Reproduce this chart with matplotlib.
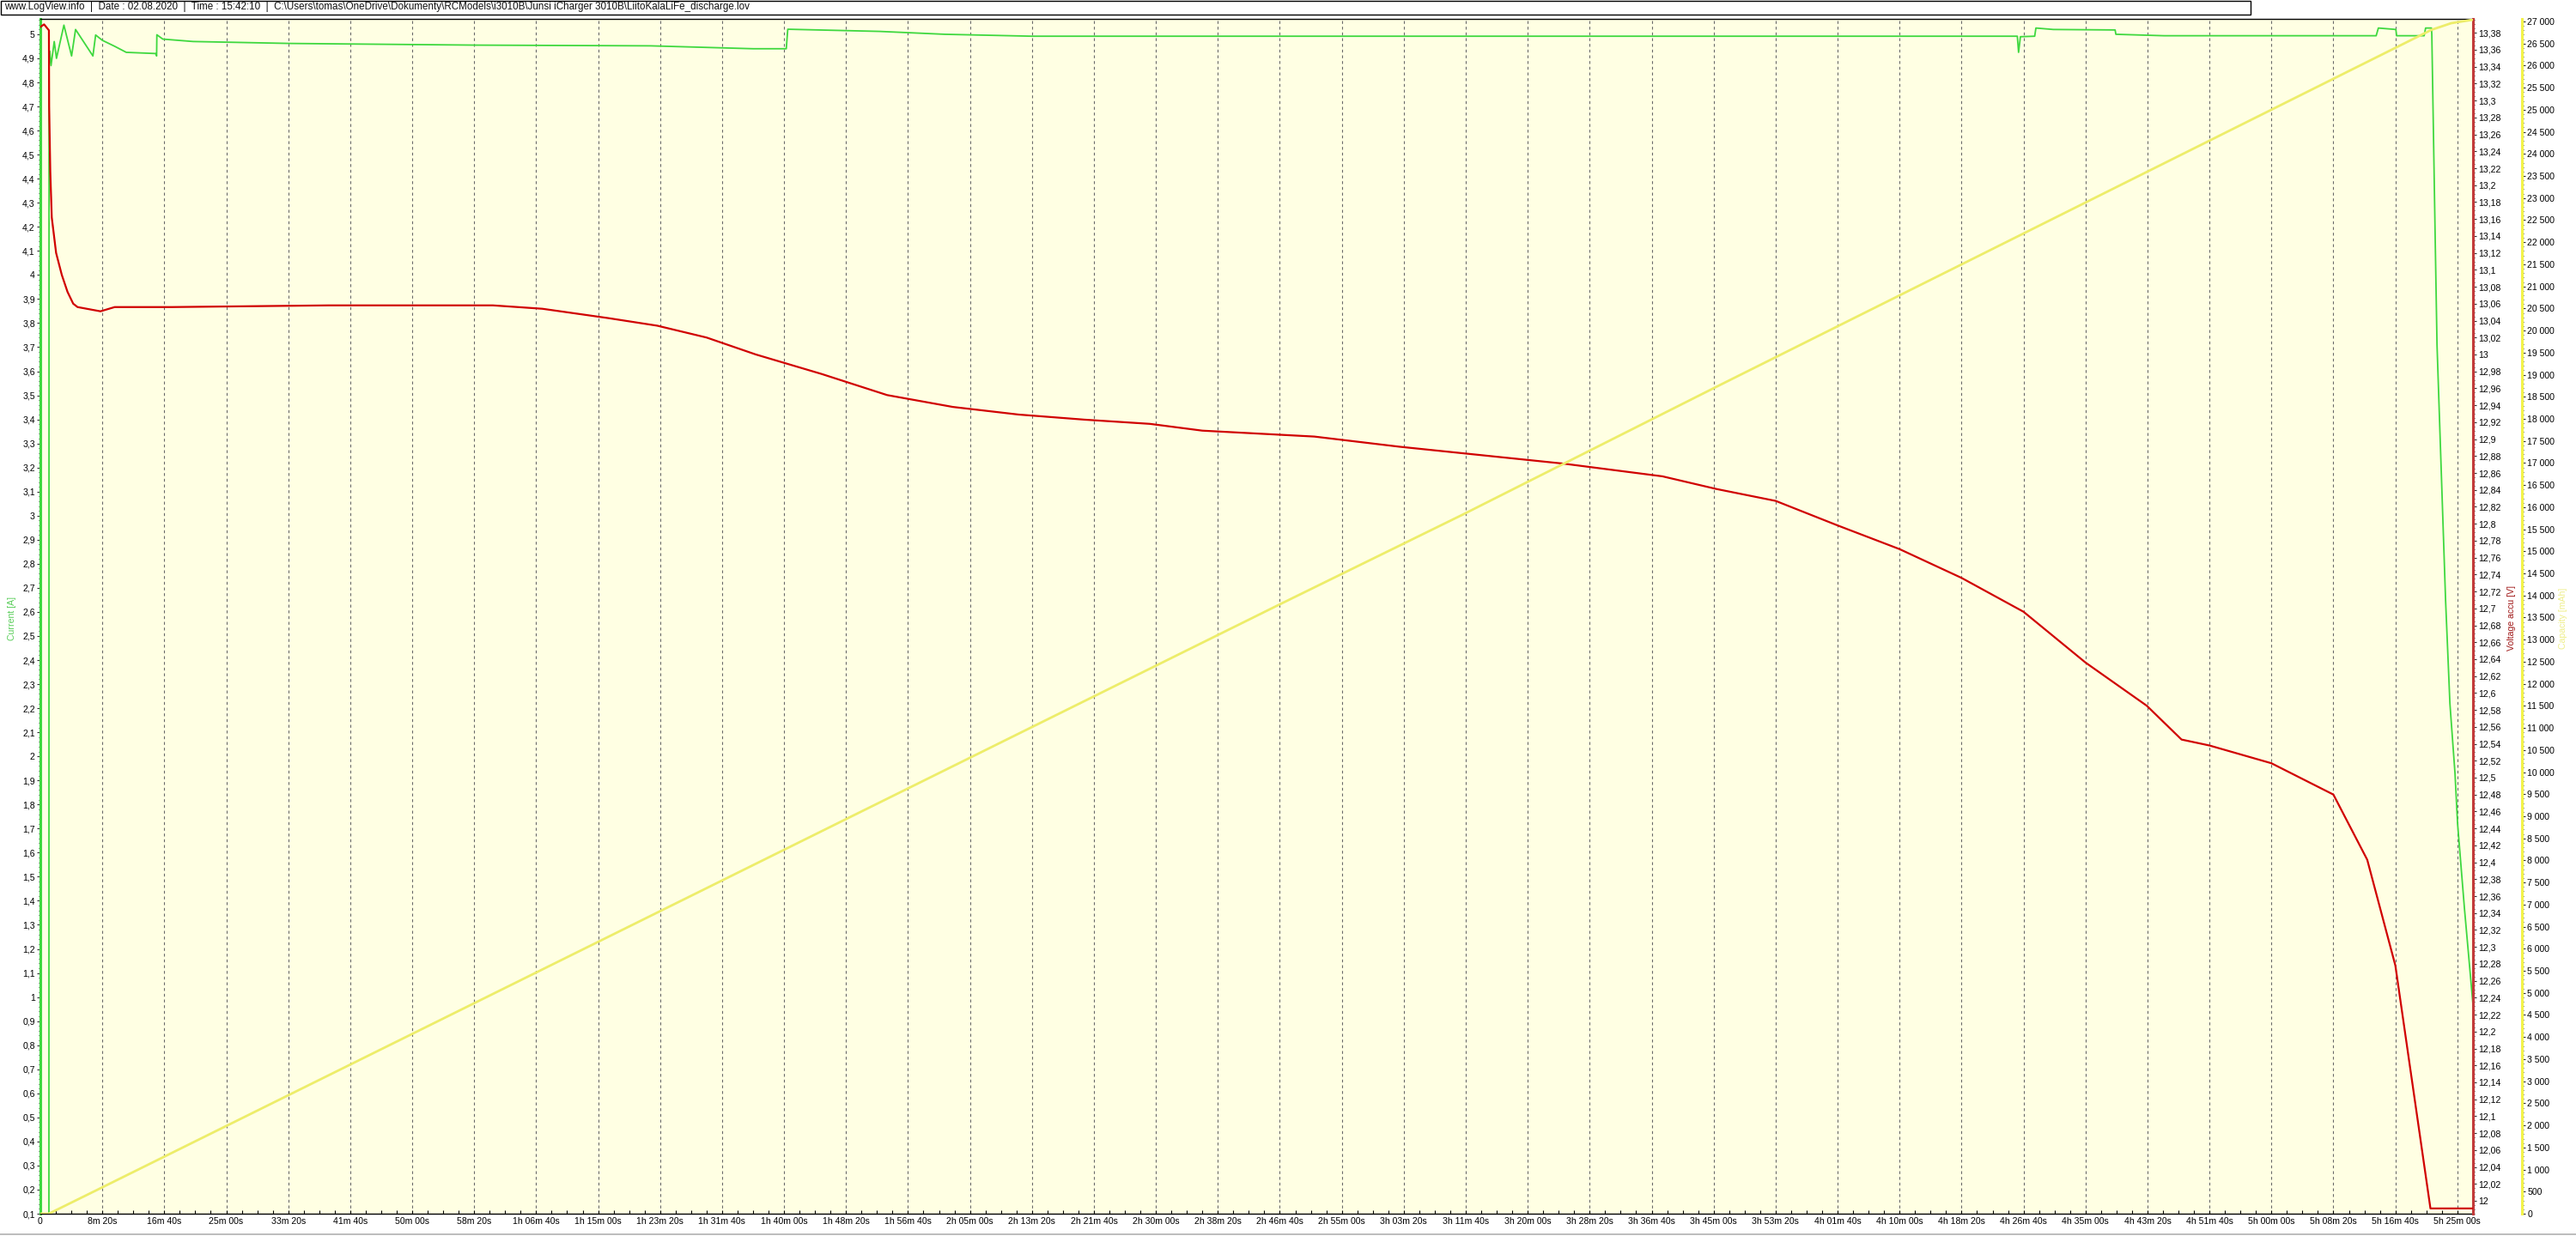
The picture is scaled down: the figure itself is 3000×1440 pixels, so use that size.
import matplotlib
matplotlib.use("Agg")
import matplotlib.pyplot as plt
from matplotlib.ticker import MultipleLocator, FuncFormatter
from matplotlib.patches import Rectangle
from matplotlib.lines import Line2D

# ---------------- data ----------------
# time in seconds
current_t = [0, 69, 70, 76, 86, 112, 130, 190, 252, 284, 424, 446, 500, 600, 693,
             930, 938, 940, 988, 1232, 2009, 3515, 4924, 5751, 6018, 6030, 6771,
             7296, 8000, 15950, 15960, 15975, 16090, 16100, 16240, 16739, 16745,
             17133, 18845, 18863, 19004, 19010, 19232, 19244, 19291, 19294, 19322,
             19336, 19405, 19440, 19481, 19502, 19557, 19626]
current_a = [0.0, 0.0, 4.87, 4.93, 4.87, 4.97, 4.90, 5.038, 4.91, 5.02, 4.91, 4.997,
             4.975, 4.95, 4.925, 4.92, 4.91, 4.998, 4.98, 4.97, 4.962, 4.955, 4.952,
             4.94, 4.94, 5.021, 5.012, 5.0, 4.992, 4.992, 4.925, 4.99, 4.992, 5.026,
             5.02, 5.018, 5.0, 4.994, 4.994, 5.026, 5.02, 4.994, 4.994, 5.026, 5.026,
             5.0, 4.13, 3.71, 2.65, 2.22, 1.93, 1.72, 1.37, 0.97]

voltage_t = [0, 30, 69, 71, 80, 92, 127, 173, 219, 265, 300, 485, 600, 1062, 2326,
             3651, 4050, 4580, 4977, 5375, 5772, 6302, 6832, 7362, 7892, 8422, 8952,
             9374, 10278, 10965, 12290, 13087, 13524, 14000, 14500, 15000, 15500,
             16000, 16500, 16994, 17275, 17500, 18000, 18500, 18773, 19000, 19283,
             19626]
voltage_v = [13.387, 13.390, 13.383, 13.293, 13.216, 13.162, 13.120, 13.094, 13.074,
             13.060, 13.056, 13.051, 13.056, 13.056, 13.058, 13.058, 13.054, 13.043,
             13.034, 13.020, 13.000, 12.977, 12.952, 12.938, 12.929, 12.923, 12.918,
             12.910, 12.903, 12.891, 12.871, 12.856, 12.841, 12.827, 12.798, 12.770,
             12.736, 12.696, 12.636, 12.585, 12.545, 12.538, 12.517, 12.480, 12.403,
             12.278, 11.991, 11.991]

capacity_t = [0, 69, 500, 10000, 11470, 13532, 19291, 19450, 19626]
capacity_mah = [0, 0, 597, 13800, 15824, 18740, 26810, 26960, 27040]

header = ("www.LogView.info  |  Date : 02.08.2020  |  Time : 15:42:10  |  "
          "C:\\Users\\tomas\\OneDrive\\Dokumenty\\RCModels\\i3010B\\Junsi iCharger 3010B\\"
          "LiitoKalaLiFe_discharge.lov")

# ---------------- styling ----------------
W, H = 3000, 1440
plt.rcParams['font.family'] = ['Liberation Sans', 'DejaVu Sans']
fig = plt.figure(figsize=(W / 100, H / 100), dpi=100)
fig.patch.set_facecolor('white')

L, R, T, B = 47, 2880, 22, 1414
ax = fig.add_axes([L / W, 1 - B / H, (R - L) / W, (B - T) / H])
ax.set_facecolor('#FFFFE3')

GREEN = '#3fd83f'
RED = '#d00000'
YELLOW = '#eded6a'
TICKFS = 7.6


def comma_fmt(v, pos):
    s = f"{v:.2f}".rstrip('0').rstrip('.')
    return s.replace('.', ',')


def thousands_fmt(v, pos):
    return f"{int(round(v)):,}".replace(',', ' ')


def time_fmt(t, pos):
    t = int(round(t))
    if t == 0:
        return '0'
    h, rem = divmod(t, 3600)
    m, s = divmod(rem, 60)
    if h:
        return f"{h}h {m:02d}m {s:02d}s"
    return f"{m}m {s:02d}s"


# main axis: current
ax.set_xlim(0, 19626)
ax.set_ylim(0.1, 5.064)
ax.plot(current_t, current_a, color=GREEN, lw=1.3, zorder=3)

ax.xaxis.set_major_locator(MultipleLocator(500))
ax.xaxis.set_minor_locator(MultipleLocator(125))
ax.xaxis.set_major_formatter(FuncFormatter(time_fmt))
ax.tick_params(axis='x', which='major', direction='in', length=3, width=0.8,
               labelsize=TICKFS, pad=3)
ax.tick_params(axis='x', which='minor', direction='in', length=3, width=0.8)
ax.grid(axis='x', which='major', color='#6a6a6a', lw=0.8, ls=(0, (3, 3)))

ax.yaxis.set_major_locator(MultipleLocator(0.1))
ax.yaxis.set_minor_locator(MultipleLocator(0.02))
ax.yaxis.set_major_formatter(FuncFormatter(comma_fmt))
ax.tick_params(axis='y', which='major', direction='out', length=3, width=0.8,
               labelsize=TICKFS, pad=1.5, color='#333333')
ax.tick_params(axis='y', which='minor', direction='out', length=1.6, width=0.8,
               color='#333333')

ax.spines['left'].set_color(GREEN)
ax.spines['left'].set_linewidth(2.2)
ax.spines['right'].set_visible(False)
ax.spines['top'].set_linewidth(1.0)
ax.spines['bottom'].set_linewidth(1.0)

# voltage axis
ax2 = ax.twinx()
ax2.set_ylim(11.9848, 13.3965)
ax2.plot(voltage_t, voltage_v, color=RED, lw=1.6, zorder=3)
ax2.yaxis.set_major_locator(MultipleLocator(0.02))
ax2.yaxis.set_minor_locator(MultipleLocator(0.005))
ax2.yaxis.set_major_formatter(FuncFormatter(comma_fmt))
ax2.tick_params(axis='y', which='major', direction='out', length=3, width=0.8,
                labelsize=TICKFS, pad=1.5, color='#333333')
ax2.tick_params(axis='y', which='minor', direction='out', length=1.6, width=0.8,
                color='#333333')
for s in ('left', 'top', 'bottom'):
    ax2.spines[s].set_visible(False)
ax2.spines['right'].set_color('#c23a3a')
ax2.spines['right'].set_linewidth(2.2)

# capacity axis
ax3 = ax.twinx()
ax3.set_ylim(0, 27058)
ax3.spines['right'].set_position(('axes', (2937 - L) / (R - L)))
ax3.plot(capacity_t, capacity_mah, color=YELLOW, lw=2.0, zorder=3)
ax3.yaxis.set_major_locator(MultipleLocator(500))
ax3.yaxis.set_minor_locator(MultipleLocator(100))
ax3.yaxis.set_major_formatter(FuncFormatter(thousands_fmt))
ax3.tick_params(axis='y', which='major', direction='out', length=3, width=0.8,
                labelsize=TICKFS, pad=1.5, color='#333333')
ax3.tick_params(axis='y', which='minor', direction='out', length=1.6, width=0.8,
                color='#333333')
for s in ('left', 'top', 'bottom'):
    ax3.spines[s].set_visible(False)
ax3.spines['right'].set_color('#f2f24a')
ax3.spines['right'].set_linewidth(2.2)

# axis titles
ymid = 1 - 720 / H
fig.text(14 / W, ymid, 'Current [A]', rotation=90, color='#55cc55',
         fontsize=TICKFS, ha='center', va='center')
fig.text(2925 / W, ymid, 'Voltage accu [V]', rotation=90, color='#a01818',
         fontsize=TICKFS, ha='center', va='center')
fig.text(2985 / W, ymid, 'Capacity [mAh]', rotation=90, color='#eeee88',
         fontsize=TICKFS, ha='center', va='center')

# header box
fig.patches.append(Rectangle((0.5 / W, 1 - 16.5 / H), 2620 / W, 16 / H,
                             transform=fig.transFigure, fill=False,
                             edgecolor='black', lw=1.0))
fig.text(5 / W, 1 - 8.5 / H, header, fontsize=8.4, color='#111111',
         ha='left', va='center')

# bottom window edge
fig.lines.append(Line2D([0, 1], [1 - 1438 / H, 1 - 1438 / H],
                        transform=fig.transFigure, color='#b0b0b0', lw=1.2))

fig.savefig('out.png', dpi=100)
